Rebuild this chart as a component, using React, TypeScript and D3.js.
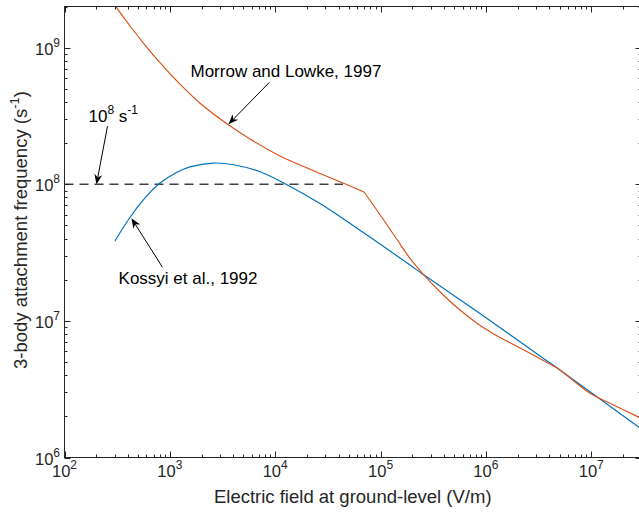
import { useRef, useEffect } from "react";
import * as d3 from "d3";

// Morrow and Lowke, 1997 (orange)
const fieldMorrow = [242, 308, 419, 581, 806, 1249, 1933, 3565, 5766, 11100, 21390, 44000, 69660,
  1.009e5, 1.401e5, 1.904e5, 2.546e5, 3.94e5, 5.679e5, 8.178e5, 1.176e6, 1.693e6, 2.439e6, 3.506e6, 4.699e6, 5.243e6,
  9.73e6, 1.402e7, 3e7];
const freqMorrow = [2.555e9, 1.984e9, 1.44e9, 1.045e9, 7.76e8, 5.4e8, 3.92e8, 2.737e8, 2.145e8, 1.61e8, 1.289e8, 1.021e8, 8.78e7,
  5.857e7, 4.043e7, 2.862e7, 2.193e7, 1.547e7, 1.2e7, 9.65e6, 8.05e6, 6.92e6, 5.97e6, 5.13e6, 4.535e6, 4.28e6,
  2.951e6, 2.562e6, 1.93e6];
const morrowKink = 69660;

// Kossyi et al., 1992 (blue)
const fieldKossyi = [301.5, 359, 427.8, 520.9, 648, 806, 1169, 1553, 2569, 4155, 7175, 12390, 26630, 69660,
  1.904e5, 2.529e5, 8.79e5, 3.263e6, 5.277e6, 1.211e7, 3e7];
const freqKossyi = [3.843e7, 4.785e7, 5.857e7, 7.17e7, 8.71e7, 1.021e8, 1.226e8, 1.342e8, 1.43e8, 1.384e8, 1.234e8, 1.0095e8, 7.23e7, 4.398e7,
  2.564e7, 2.193e7, 1.132e7, 5.53e6, 4.262e6, 2.68e6, 1.617e6];

// 10^8 s^-1 reference line
const refFreq = 1e8;
const refFieldRange = [1e2, 4.4e4];

const xDecades = [2, 3, 4, 5, 6, 7];
const yDecades = [6, 7, 8, 9];

const FONT = "'Liberation Sans', Arial, Helvetica, sans-serif";

export default function App() {
  const ref = useRef<SVGSVGElement | null>(null);

  useEffect(() => {
    if (!ref.current) return;
    const svg = d3.select(ref.current);
    svg.selectAll("*").remove();

    const x = d3.scaleLog().domain([1e2, 3e7]).range([64.5, 641.5]);
    const y = d3.scaleLog().domain([1e6, 2e9]).range([457.5, 6.5]);
    const [x0, x1] = x.range();
    const [y0, y1] = y.range();

    svg.append("defs").append("clipPath").attr("id", "plot")
      .append("rect").attr("x", x0).attr("y", y1).attr("width", x1 - x0).attr("height", y0 - y1);

    const plot = svg.append("g").attr("clip-path", "url(#plot)");

    // dashed 1e8 line
    plot.append("line")
      .attr("x1", x(refFieldRange[0])).attr("x2", x(refFieldRange[1]))
      .attr("y1", y(refFreq)).attr("y2", y(refFreq))
      .attr("stroke", "#404040").attr("stroke-width", 1.5).attr("stroke-dasharray", "9,6");

    const line = d3.line<[number, number]>().x(d => x(d[0])).y(d => y(d[1]))
      .curve(d3.curveCatmullRom.alpha(0.5));

    const blue: [number, number][] = fieldKossyi.map((f, i) => [f, freqKossyi[i]]);
    plot.append("path").attr("d", line(blue) as string)
      .attr("fill", "none").attr("stroke", "#0072BD").attr("stroke-width", 1.2);

    const orange: [number, number][] = fieldMorrow.map((f, i) => [f, freqMorrow[i]]);
    const k = fieldMorrow.indexOf(morrowKink);
    [orange.slice(0, k + 1), orange.slice(k)].forEach(seg => {
      plot.append("path").attr("d", line(seg) as string)
        .attr("fill", "none").attr("stroke", "#D95319").attr("stroke-width", 1.2);
    });

    // axes box + ticks
    const ax = svg.append("g").attr("stroke", "#262626").attr("stroke-width", 1).attr("fill", "none");
    ax.append("rect").attr("x", x0).attr("y", y1).attr("width", x1 - x0).attr("height", y0 - y1);

    xDecades.forEach(dec => {
      for (let m = 1; m <= 9; m++) {
        const v = m * Math.pow(10, dec);
        if (v > 3e7) continue;
        const len = m === 1 ? 6 : 3;
        const px = Math.round(x(v)) + 0.5;
        ax.append("line").attr("x1", px).attr("x2", px).attr("y1", y0).attr("y2", y0 - len);
        ax.append("line").attr("x1", px).attr("x2", px).attr("y1", y1).attr("y2", y1 + len);
      }
    });
    yDecades.forEach(dec => {
      for (let m = 1; m <= 9; m++) {
        const v = m * Math.pow(10, dec);
        if (v > 2e9) continue;
        const len = m === 1 ? 6 : 3;
        const py = Math.round(y(v)) + 0.5;
        ax.append("line").attr("x1", x0).attr("x2", x0 + len).attr("y1", py).attr("y2", py);
        ax.append("line").attr("x1", x1).attr("x2", x1 - len).attr("y1", py).attr("y2", py);
      }
    });

    // tick labels
    const txt = svg.append("g").attr("font-family", FONT).attr("fill", "#262626");
    xDecades.forEach(dec => {
      const t = txt.append("text").attr("x", x(Math.pow(10, dec))).attr("y", 477)
        .attr("text-anchor", "middle").attr("font-size", 16.5);
      t.append("tspan").text("10");
      t.append("tspan").attr("dy", -8).attr("font-size", 12).text(String(dec));
    });
    yDecades.forEach(dec => {
      const t = txt.append("text").attr("x", 60).attr("y", y(Math.pow(10, dec)) + 7)
        .attr("text-anchor", "end").attr("font-size", 16.5);
      t.append("tspan").text("10");
      t.append("tspan").attr("dy", -8).attr("font-size", 12).text(String(dec));
    });

    // axis labels
    txt.append("text").attr("x", (x0 + 639) / 2 + 1).attr("y", 503).attr("text-anchor", "middle")
      .attr("font-size", 18.5).text("Electric field at ground-level (V/m)");
    const yl = txt.append("text").attr("transform", "translate(27,230) rotate(-90)")
      .attr("text-anchor", "middle").attr("font-size", 18.5);
    yl.append("tspan").text("3-body attachment frequency (s");
    yl.append("tspan").attr("dy", -8).attr("font-size", 13).text("-1");
    yl.append("tspan").attr("dy", 8).text(")");

    // annotations
    const ann = svg.append("g").attr("font-family", FONT).attr("fill", "#000");
    const arrow = (from: [number, number], to: [number, number]) => {
      const ax0 = x(from[0]), ay0 = y(from[1]), ax1 = x(to[0]), ay1 = y(to[1]);
      const ang = Math.atan2(ay1 - ay0, ax1 - ax0);
      const hl = 10, hw = 4;
      const bx = ax1 - hl * Math.cos(ang), by = ay1 - hl * Math.sin(ang);
      const nx = ax1 - hl * 0.7 * Math.cos(ang), ny = ay1 - hl * 0.7 * Math.sin(ang);
      ann.append("line").attr("x1", ax0).attr("y1", ay0).attr("x2", nx).attr("y2", ny)
        .attr("stroke", "#000").attr("stroke-width", 1);
      const pts = [
        [ax1, ay1],
        [bx + hw * Math.sin(ang), by - hw * Math.cos(ang)],
        [nx, ny],
        [bx - hw * Math.sin(ang), by + hw * Math.cos(ang)],
      ];
      ann.append("polygon").attr("points", pts.map(p => p.join(",")).join(" ")).attr("fill", "#000");
    };

    arrow([256, 2.66e8], [201, 1.0e8]);
    arrow([8830, 5.58e8], [3600, 2.75e8]);
    arrow([851, 2.47e7], [432, 5.64e7]);

    const t1 = ann.append("text").attr("x", x(169)).attr("y", y(2.85e8)).attr("font-size", 17);
    t1.append("tspan").text("10");
    t1.append("tspan").attr("dy", -8).attr("font-size", 12).text("8");
    t1.append("tspan").attr("dy", 8).text(" s");
    t1.append("tspan").attr("dy", -8).attr("font-size", 12).text("-1");

    ann.append("text").attr("x", x(1570)).attr("y", y(6.08e8)).attr("font-size", 17)
      .text("Morrow and Lowke, 1997");
    ann.append("text").attr("x", x(326)).attr("y", y(1.85e7)).attr("font-size", 17)
      .text("Kossyi et al., 1992");

    return () => { svg.selectAll("*").remove(); };
  }, []);

  return (
    <svg ref={ref} width={639} height={513}
      style={{ position: "absolute", left: 0, top: 0, background: "#fff" }} />
  );
}
